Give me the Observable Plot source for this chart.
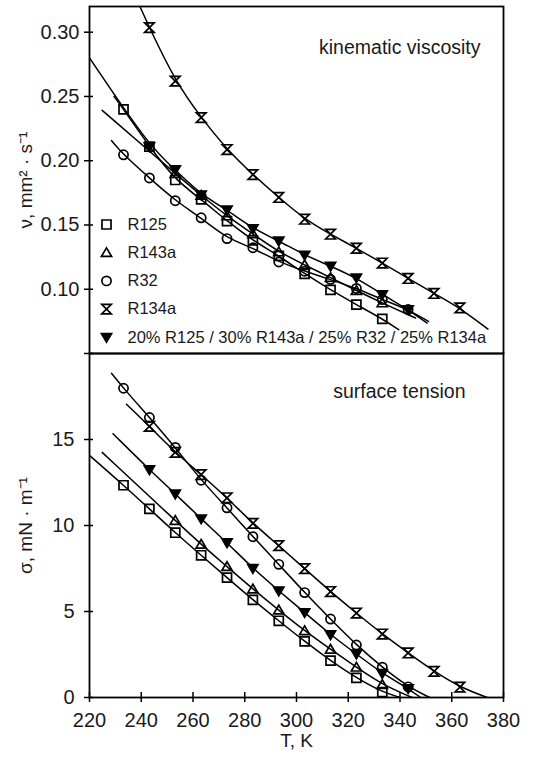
<!DOCTYPE html>
<html><head><meta charset="utf-8">
<script src="https://cdn.jsdelivr.net/npm/d3@7"></script>
<script src="https://cdn.jsdelivr.net/npm/@observablehq/plot@0.6"></script>
<style>
body{margin:0;background:#fff;}
#wrap{position:relative;width:542px;height:759px;font-family:"Liberation Sans",Arial,sans-serif;}
#wrap svg{position:absolute;left:0;}
</style></head><body><div id="wrap"></div>
<script>
// ---------- data ----------
const seriesNames = ["R125", "R143a", "R32", "R134a", "20% R125 / 30% R143a / 25% R32 / 25% R134a"];
const panelTitles = ["kinematic viscosity", "surface tension"];
const yLabels = ["ν, mm² · s⁻¹", "σ, mN · m⁻¹"];
const xLabel = "T, K";
const xTicks = [220, 240, 260, 280, 300, 320, 340, 360, 380];
const nuTicks = [0.05, 0.10, 0.15, 0.20, 0.25, 0.30];
const sigmaTicks = [0, 5, 10, 15];

// temperatures of the measured points
const tA = [233.15, 243.15, 253.15, 263.15, 273.15, 283.15, 293.15, 303.15, 313.15, 323.15, 333.15];
const tB = [243.15, 253.15, 263.15, 273.15, 283.15, 293.15, 303.15, 313.15, 323.15, 333.15, 343.15, 353.15, 363.15];
const tC = [253.15, 263.15, 273.15, 283.15, 293.15, 303.15, 313.15, 323.15, 333.15];
const tD = [243.15, 253.15, 263.15, 273.15, 283.15, 293.15, 303.15, 313.15, 323.15, 333.15, 343.15];
const tE = [233.15, 243.15, 253.15, 263.15, 273.15, 283.15, 293.15, 303.15, 313.15, 323.15, 333.15, 343.15];

// kinematic viscosity, mm2/s
const nuR125  = [0.240, 0.211, 0.185, 0.170, 0.153, 0.138, 0.126, 0.112, 0.0995, 0.088, 0.077];
const nuR143a = [0.190, 0.173, 0.157, 0.143, 0.129, 0.119, 0.109, 0.099, 0.0893];
const nuR32   = [0.2046, 0.1866, 0.1689, 0.1556, 0.1394, 0.1323, 0.1212, 0.114, 0.1076, 0.1006, 0.092, 0.0842];
const nuR134a = [0.3036, 0.2619, 0.2335, 0.2087, 0.1892, 0.1714, 0.1545, 0.1428, 0.1319, 0.1204, 0.1084, 0.0967, 0.0855];
const nuMix   = [0.211, 0.193, 0.1735, 0.1618, 0.1472, 0.1376, 0.1266, 0.118, 0.1089, 0.0959, 0.0842];
// fitted-curve extents [T, value]
const nuFitStart = [[229.5, 0.250], [224.9, 0.2392], [228.5, 0.2157], [239.5, 0.320], [220, 0.280]];
const nuFitEnd   = [[339.5, 0.0685], [346, 0.0776], [351, 0.075], [374, 0.069], [350.5, 0.0737]];

// surface tension, mN/m
const sgR125  = [12.34, 10.97, 9.58, 8.27, 6.97, 5.68, 4.46, 3.26, 2.14, 1.14, 0.31];
const sgR143a = [10.29, 8.90, 7.61, 6.30, 5.08, 3.88, 2.80, 1.76, 0.75];
const sgR32   = [17.98, 16.28, 14.54, 12.63, 11.03, 9.35, 7.74, 6.10, 4.56, 3.05, 1.76, 0.62];
const sgR134a = [15.76, 14.25, 12.96, 11.61, 10.12, 8.83, 7.49, 6.16, 4.91, 3.69, 2.59, 1.52, 0.60];
const sgMix   = [13.25, 11.84, 10.39, 9.00, 7.51, 6.20, 4.94, 3.65, 2.53, 1.40, 0.52];
const sgFitStart = [[220, 14.08], [224.9, 14.25], [228.5, 18.85], [234.3, 17.05], [229.1, 15.33]];
const sgFitEnd   = [[340.2, 0], [344.7, 0], [351.5, 0], [373.7, 0], [348, 0]];

const nuTemps = [tA, tC, tE, tB, tD];
const nuVals = [nuR125, nuR143a, nuR32, nuR134a, nuMix];
const sgTemps = [tA, tC, tE, tB, tD];
const sgVals = [sgR125, sgR143a, sgR32, sgR134a, sgMix];

// ---------- symbols ----------
const symSquare = {draw(c, s) {const h = Math.sqrt(s) / 2; c.moveTo(-h, -h); c.lineTo(h, -h); c.lineTo(h, h); c.lineTo(-h, h); c.closePath();}};
const symTriUp = {draw(c, s) {const h = Math.sqrt(s) / 2; c.moveTo(0, -1.1 * h); c.lineTo(1.15 * h, 0.85 * h); c.lineTo(-1.15 * h, 0.85 * h); c.closePath();}};
const symTriDown = {draw(c, s) {const h = Math.sqrt(s) / 2; c.moveTo(-1.15 * h, -0.85 * h); c.lineTo(1.15 * h, -0.85 * h); c.lineTo(0, 1.1 * h); c.closePath();}};
const symHour = {draw(c, s) {const h = Math.sqrt(s) / 2; c.moveTo(-h, -h); c.lineTo(h, -h); c.lineTo(-h, h); c.lineTo(h, h); c.closePath();}};
const styles = [
  {symbol: symSquare, r: 5.1, fill: "none"},
  {symbol: symTriUp, r: 5.0, fill: "none"},
  {symbol: "circle", r: 4.6, fill: "none"},
  {symbol: symHour, r: 5.4, fill: "none"},
  {symbol: symTriDown, r: 5.0, fill: "#000"}
];

const FONT = '"Liberation Sans", Arial, sans-serif';
const TXT = "#1a1a1a";

function seriesMarks(temps, vals, starts, ends) {
  const lines = [], dots = [];
  temps.forEach((T, k) => {
    const pts = T.map((t, i) => ({T: t, v: vals[k][i]}));
    const fit = [{T: starts[k][0], v: starts[k][1]}, ...pts, {T: ends[k][0], v: ends[k][1]}];
    lines.push(Plot.line(fit, {x: "T", y: "v", curve: "basis", stroke: "#000", strokeWidth: 1.5, clip: true}));
    dots.push(Plot.dot(pts, {x: "T", y: "v", symbol: styles[k].symbol, r: styles[k].r, fill: styles[k].fill, stroke: "#000", strokeWidth: 1.7}));
  });
  return [...lines, ...dots];
}

function legendMarks() {
  const m = [];
  seriesNames.forEach((name, i) => {
    const dy = 218 + i * 28.2;
    m.push(Plot.dot([name], {frameAnchor: "top-left", dx: 17, dy, symbol: styles[i].symbol, r: styles[i].r, fill: styles[i].fill, stroke: "#000", strokeWidth: 1.7}));
    m.push(Plot.text([name], {frameAnchor: "top-left", dx: 38, dy, text: d => d, textAnchor: "start", lineAnchor: "middle", fontSize: 16.5, fill: TXT}));
  });
  return m;
}

const wrap = document.getElementById("wrap");

const topPlot = Plot.plot({
  width: 542, height: 356,
  marginTop: 6, marginBottom: 3, marginLeft: 89, marginRight: 39,
  style: {background: "transparent", fontFamily: FONT, overflow: "visible"},
  x: {domain: [220, 380], axis: null},
  y: {domain: [0.05, 0.32], axis: null, label: null},
  marks: [
    Plot.axisY({ticks: nuTicks, tickSize: 9, dx: 4, tickFormat: () => "", label: null, strokeWidth: 1.5, stroke: "#000"}),
    Plot.axisY({ticks: nuTicks, tickSize: 0, tickPadding: 10, tickFormat: d => d === 0.05 ? "" : d3.format(".2f")(d), label: null, fontSize: 20, fill: TXT}),
    ...seriesMarks(nuTemps, nuVals, nuFitStart, nuFitEnd),
    ...legendMarks(),
    Plot.text([panelTitles[0]], {frameAnchor: "top-right", dx: -23, dy: 41, text: d => d, textAnchor: "end", lineAnchor: "middle", fontSize: 19.5, fill: TXT}),
    Plot.text([yLabels[0]], {frameAnchor: "left", dx: -64, rotate: -90, text: d => d, textAnchor: "middle", lineAnchor: "middle", fontSize: 19, fill: TXT}),
    Plot.frame({stroke: "#000", strokeWidth: 1.8})
  ]
});
topPlot.style.top = "0px";
wrap.appendChild(topPlot);

const bottomPlot = Plot.plot({
  width: 542, height: 413,
  marginTop: 7, marginBottom: 62, marginLeft: 89, marginRight: 39,
  style: {background: "transparent", fontFamily: FONT, overflow: "visible"},
  x: {domain: [220, 380], axis: null, label: null},
  y: {domain: [0, 20], axis: null, label: null},
  marks: [
    Plot.axisY({ticks: sigmaTicks, tickSize: 9, dx: 4, tickFormat: () => "", label: null, strokeWidth: 1.5, stroke: "#000"}),
    Plot.axisY({ticks: sigmaTicks, tickSize: 0, tickPadding: 15, label: null, fontSize: 20, fill: TXT}),
    Plot.axisX({ticks: xTicks, tickSize: 10, dy: -5, tickFormat: () => "", label: null, strokeWidth: 1.5, stroke: "#000"}),
    Plot.axisX({ticks: xTicks, tickSize: 0, tickPadding: 15, label: null, fontSize: 20, fill: TXT}),
    ...seriesMarks(sgTemps, sgVals, sgFitStart, sgFitEnd),
    Plot.text([panelTitles[1]], {frameAnchor: "top-right", dx: -38, dy: 38, text: d => d, textAnchor: "end", lineAnchor: "middle", fontSize: 19.5, fill: TXT}),
    Plot.text([yLabels[1]], {frameAnchor: "left", dx: -64, rotate: -90, text: d => d, textAnchor: "middle", lineAnchor: "middle", fontSize: 19, fill: TXT}),
    Plot.text([xLabel], {frameAnchor: "bottom", dy: 43, text: d => d, textAnchor: "middle", lineAnchor: "middle", fontSize: 19, fill: TXT}),
    Plot.frame({stroke: "#000", strokeWidth: 1.8})
  ]
});
bottomPlot.style.top = "346px";
wrap.appendChild(bottomPlot);
</script></body></html>
